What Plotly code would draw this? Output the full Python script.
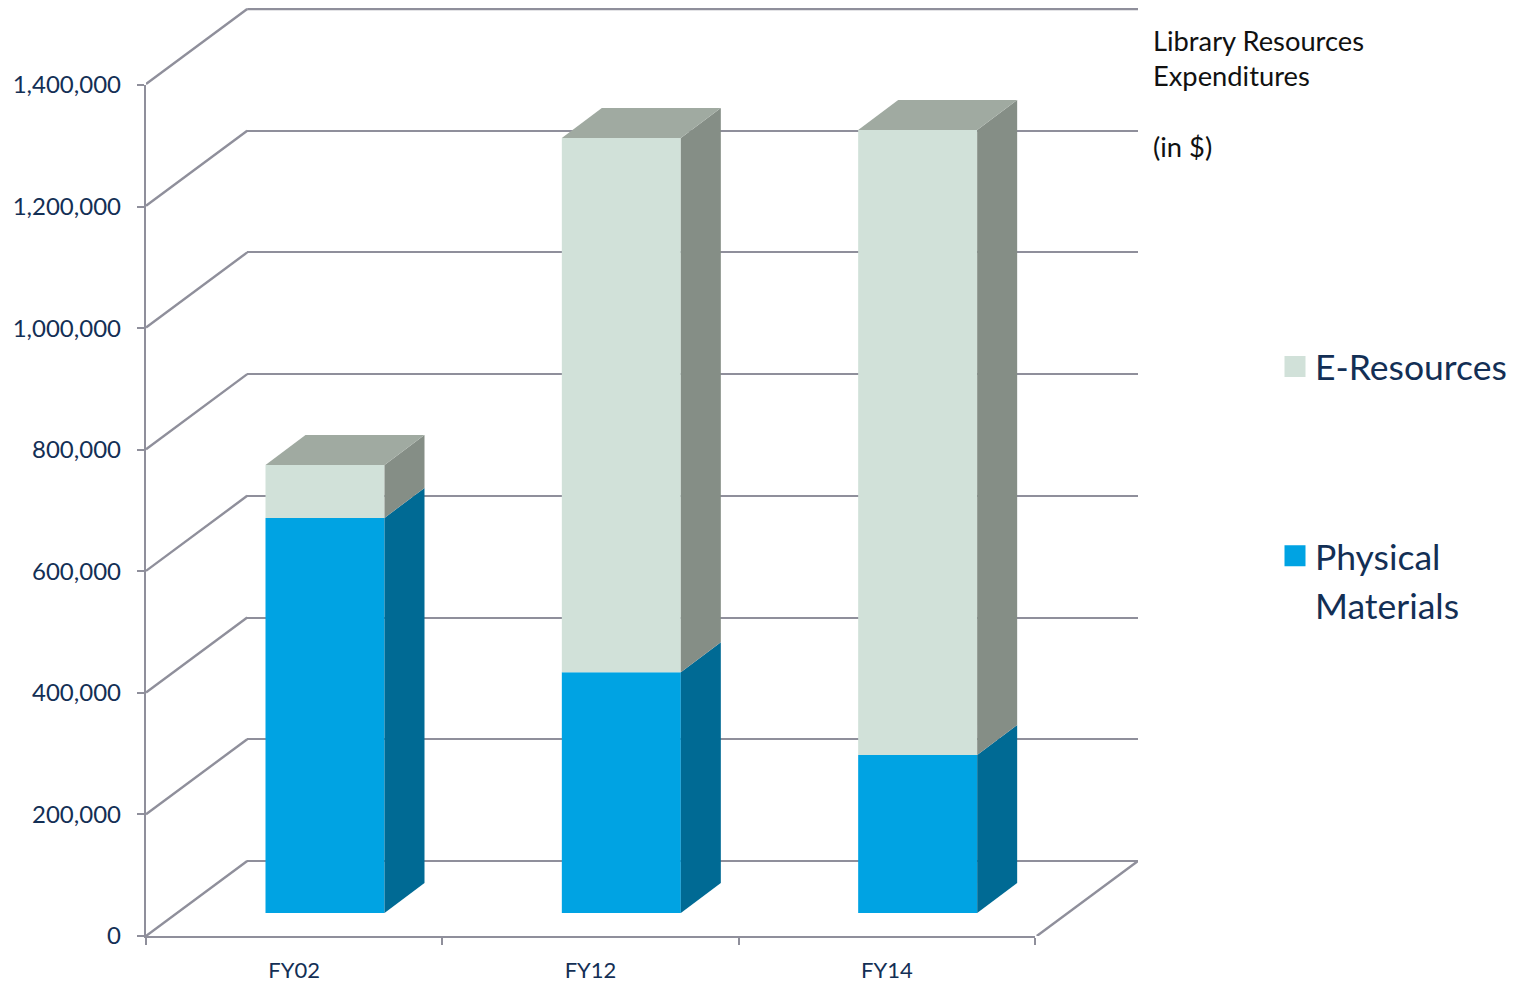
import plotly.graph_objects as go

categories = ["FY02", "FY12", "FY14"]
physical = [650000, 396000, 260000]
eresources = [87000, 879000, 1028000]
y_ticks = [0, 200000, 400000, 600000, 800000, 1000000, 1200000, 1400000]
y_labels = ["0", "200,000", "400,000", "600,000", "800,000", "1,000,000", "1,200,000", "1,400,000"]

PAGE = 8                # the page's own margin round the figure
W, H = 1515 - PAGE, 984 - PAGE
PX_X = 889 / 3          # pixels per category
PX_Y = 851 / 1400000    # pixels per dollar
LINE = "#8F8F9B"
NAVY = "#132F55"
FONT = "Lato"
C_PHYS, C_PHYS_SIDE = "#00A3E3", "#006A94"
C_E, C_E_SIDE, C_E_TOP = "#D1E1D9", "#858E86", "#A0AAA1"


def fx(px):
    return (px - PAGE) / W


def fy(px):
    return 1 - (px - PAGE) / H


# projection offsets of the pseudo-3D box (pixels converted into data units)
wall_dx, wall_dy = 101 / PX_X, 75 / PX_Y
bar_dx, bar_dy = 40 / PX_X, 30 / PX_Y
floor_base = 23 / PX_Y
bar_w = 119 / PX_X
bar_left = 119.5 / PX_X   # offset of bar's left edge inside its category
top_pad = 1 / PX_Y        # head-room above the top of the wall

fig = go.Figure()

# back wall: native gridlines on its own axes, drawn first (behind everything)
fig.add_trace(go.Scatter(x=[0], y=[0], xaxis="x", yaxis="y", mode="none",
                         showlegend=False, hoverinfo="skip"))

centers = [i + (bar_left + bar_w / 2) for i in range(3)]

# front faces
fig.add_trace(go.Bar(x=centers, y=physical, base=[floor_base] * 3, width=bar_w,
                     xaxis="x2", yaxis="y2", marker=dict(color=C_PHYS, line=dict(width=0)),
                     showlegend=False, customdata=categories,
                     hovertemplate="%{customdata}: %{y:,}<extra>Physical Materials</extra>"))
fig.add_trace(go.Bar(x=centers, y=eresources,
                     base=[floor_base + p for p in physical], width=bar_w,
                     xaxis="x2", yaxis="y2", marker=dict(color=C_E, line=dict(width=0)),
                     showlegend=False, customdata=categories,
                     hovertemplate="%{customdata}: %{y:,}<extra>E-Resources</extra>"))


def poly(xs, ys, color):
    fig.add_trace(go.Scatter(x=xs, y=ys, xaxis="x2", yaxis="y2", mode="lines", fill="toself",
                             fillcolor=color, line=dict(width=0), cliponaxis=False,
                             showlegend=False, hoverinfo="skip"))


for i, (p, e) in enumerate(zip(physical, eresources)):
    xr = i + bar_left + bar_w
    xl = i + bar_left
    y0 = floor_base
    y1 = floor_base + p
    y2 = y1 + e
    poly([xr, xr + bar_dx, xr + bar_dx, xr, xr], [y0, y0 + bar_dy, y1 + bar_dy, y1, y0], C_PHYS_SIDE)
    poly([xr, xr + bar_dx, xr + bar_dx, xr, xr], [y1, y1 + bar_dy, y2 + bar_dy, y2, y1], C_E_SIDE)
    poly([xl, xr, xr + bar_dx, xl + bar_dx, xl], [y2, y2, y2 + bar_dy, y2 + bar_dy, y2], C_E_TOP)


def connector(xs, ys):
    fig.add_trace(go.Scatter(x=xs, y=ys, xaxis="x3", yaxis="y3", mode="lines",
                             line=dict(color=LINE, width=2.4), cliponaxis=False,
                             showlegend=False, hoverinfo="skip"))


# left wall and floor connectors, on axes that span the whole box
for v in y_ticks:
    connector([0, wall_dx], [v, v + wall_dy])
connector([3, 3 + wall_dx], [0, wall_dy])
# the top edge of the back wall (a native gridline is dropped this close to the page edge)
connector([wall_dx, 3 + wall_dx], [y_ticks[-1] + wall_dy, y_ticks[-1] + wall_dy])

# legend entries (the second line of the last label sits on its own row, without a swatch)
for name, color, grp in [("E-Resources", C_E, "e"), ("Physical", C_PHYS, "p"),
                         ("Materials", "rgba(0,0,0,0)", "p")]:
    fig.add_trace(go.Scatter(x=[None], y=[None], xaxis="x2", yaxis="y2", mode="markers", name=name,
                             legendgroup=grp,
                             marker=dict(symbol="square", size=16, color=color,
                                         line=dict(width=5, color=color))))

fig.update_layout(
    width=W, height=H, margin=dict(l=0, r=0, t=0, b=0, autoexpand=False), autosize=False,
    paper_bgcolor="white", plot_bgcolor="rgba(0,0,0,0)", barmode="overlay",
    font=dict(family=FONT, color=NAVY),
    xaxis=dict(domain=[fx(247), fx(1138)], range=[0, 3], visible=False, fixedrange=True),
    yaxis=dict(domain=[fy(861), fy(8)], range=[0, 1400000 + top_pad], tickvals=y_ticks,
               showticklabels=False, ticks="", showgrid=True, gridcolor=LINE, gridwidth=2.4,
               zeroline=True, zerolinecolor=LINE, zerolinewidth=2.4, showline=False, fixedrange=True),
    xaxis2=dict(domain=[fx(146), fx(1035)], range=[0, 3], anchor="y2", showgrid=False, zeroline=False,
                tickvals=[0.5, 1.5, 2.5], ticktext=categories, ticks="", ticklabelstandoff=13,
                tickfont=dict(size=22, color=NAVY, family=FONT),
                showline=True, linecolor=LINE, linewidth=2.4,
                minor=dict(tick0=0, dtick=1, ticks="outside", ticklen=7, tickcolor=LINE, tickwidth=2),
                fixedrange=True),
    yaxis2=dict(domain=[fy(936), fy(85)], range=[0, 1400000], anchor="x2", showgrid=False,
                zeroline=False, tickvals=y_ticks, ticktext=y_labels, ticks="outside", ticklen=7,
                ticklabelstandoff=11, tickcolor=LINE, tickwidth=2,
                tickfont=dict(size=24, color=NAVY, family=FONT),
                showline=True, linecolor=LINE, linewidth=2.4, fixedrange=True),
    xaxis3=dict(domain=[fx(146), fx(1138)], range=[0, 3 + wall_dx], anchor="y3", visible=False,
                fixedrange=True),
    yaxis3=dict(domain=[fy(936), fy(8)], range=[0, 1400000 + wall_dy + top_pad], anchor="x3",
                visible=False, fixedrange=True),
    legend=dict(x=fx(1275), y=fy(337), xanchor="left", yanchor="top", bgcolor="rgba(0,0,0,0)",
                font=dict(size=35.5, color=NAVY, family=FONT), tracegroupgap=140, itemwidth=30),
    annotations=[dict(text="Library Resources<br>Expenditures<br><br>(in $)", xref="paper", yref="paper",
                      x=fx(1151), y=fy(22), xanchor="left", yanchor="top", align="left",
                      showarrow=False, font=dict(size=27.3, color="#111111", family=FONT))],
)
fig.write_html("out.html")
